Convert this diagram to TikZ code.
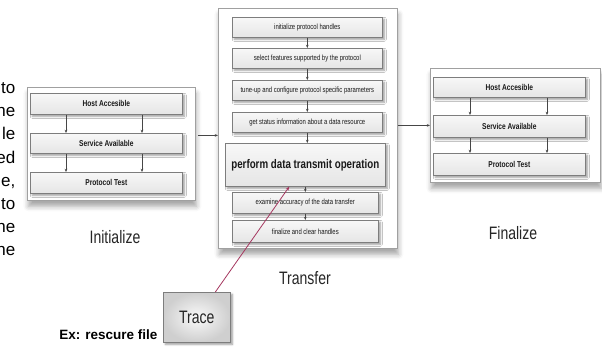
\documentclass[tikz,border=0pt]{standalone}
\usepackage{fontspec}
\setmainfont{Liberation Sans}
\newfontfamily\narrowfont[FakeStretch=0.78]{Liberation Sans}
\usetikzlibrary{arrows.meta,shadows.blur}

\definecolor{framegray}{RGB}{160,160,160}
\definecolor{boxedge}{RGB}{125,125,125}
\definecolor{conngray}{RGB}{70,70,70}
\definecolor{tracered}{RGB}{165,55,95}

\tikzset{
  panel/.style={draw=framegray, line width=0.8pt, fill=white, inner sep=0pt,
    anchor=north west,
    blur shadow={shadow xshift=1pt, shadow yshift=-6pt, shadow blur radius=5pt,
                 shadow opacity=35}},
  ibox/.style={draw=boxedge, line width=0.6pt, top color=gray!6, bottom color=gray!20,
    inner sep=0pt, anchor=north west, text=black!90,
    blur shadow={shadow xshift=2pt, shadow yshift=-2pt, shadow blur radius=2pt,
                 shadow opacity=40},
    font=\narrowfont\bfseries\fontsize{8.5}{10}\selectfont},
  tbox/.style={ibox, minimum width=150pt, minimum height=20pt,
    font=\narrowfont\fontsize{7.6}{9}\selectfont},
  conn/.style={draw=conngray, line width=0.6pt,
    -{Stealth[length=3.2pt,width=2.6pt]}},
  lbl/.style={font=\narrowfont\fontsize{18}{20}\selectfont, text=black!85},
  tracebox/.style={draw=boxedge, line width=0.7pt, inner sep=0pt, anchor=north west,
    shading=radial, inner color=gray!4, outer color=gray!38,
    blur shadow={shadow xshift=2pt, shadow yshift=-2pt, shadow blur radius=2pt,
                 shadow opacity=40},
    font=\narrowfont\fontsize{18}{20}\selectfont, text=black!85},
  tracelink/.style={draw=tracered, line width=0.8pt,
    -{Stealth[length=4pt,width=3pt]}},
  margintext/.style={font=\fontsize{17}{20}\selectfont, anchor=base east, inner sep=0pt}
}

\begin{document}
\begin{tikzpicture}[x=1pt,y=-1pt]
\useasboundingbox (0,0) rectangle (602,347);

% cut-off paragraph at the left edge
\foreach \w [count=\i] in {to,he,le,ed,{e,},to,he,he}
  \node[margintext] (m\i) at (15.5, {93.5 + (\i-1)*23.2}) {\w};

% ---------- Initialize ----------
\node[panel, minimum width=168pt, minimum height=113pt] (ini) at (27,87) {};
\node[ibox, minimum width=152pt, minimum height=21pt] (i1) at (30,93)  {Host Accesible};
\node[ibox, minimum width=152pt, minimum height=20pt] (i2) at (30,133) {Service Available};
\node[ibox, minimum width=152pt, minimum height=21pt] (i3) at (30,172) {Protocol Test};
\foreach \dx in {36,112} {
  \draw[conn] ([xshift=\dx pt]i1.south west) -- ([xshift=\dx pt]i2.north west);
  \draw[conn] ([xshift=\dx pt]i2.south west) -- ([xshift=\dx pt]i3.north west);
}
\node[lbl] (linit) at (115,237) {Initialize};

% ---------- Transfer ----------
\node[panel, minimum width=179pt, minimum height=240pt] (tra) at (218,8) {};
\node[tbox] (t1) at (232,17)  {initialize protocol handles};
\node[tbox] (t2) at (232,48)  {select features supported by the protocol};
\node[tbox] (t3) at (232,80)  {tune-up and configure protocol specific parameters};
\node[tbox] (t4) at (232,112) {get status information about a data resource};
\node[ibox, minimum width=160pt, minimum height=43pt,
      font=\narrowfont\bfseries\fontsize{12.5}{14}\selectfont] (t5) at (225,143)
      {perform data transmit operation};
\node[tbox, minimum width=146pt, minimum height=21pt] (t6) at (232,192) {examine accuracy of the data transfer};
\node[tbox, minimum width=146pt, minimum height=22pt] (t7) at (232,220) {finalize and clear handles};
\draw[conn] (t1.south) -- (t2.north);
\draw[conn] (t2.south) -- (t3.north);
\draw[conn] (t3.south) -- (t4.north);
\draw[conn] (t4.south) -- (t4.south |- t5.north);
\draw[conn] (t6.north |- t5.south) -- (t6.north);
\draw[conn] (t6.south) -- (t7.north);
\node[lbl] (ltra) at (305,278) {Transfer};

% ---------- Finalize ----------
\node[panel, minimum width=170pt, minimum height=114pt] (fin) at (430,68) {};
\node[ibox, minimum width=152pt, minimum height=20pt] (f1) at (433,77)  {Host Accesible};
\node[ibox, minimum width=152pt, minimum height=22pt] (f2) at (433,115) {Service Available};
\node[ibox, minimum width=152pt, minimum height=22pt] (f3) at (433,153) {Protocol Test};
\foreach \dx in {37,114} {
  \draw[conn] ([xshift=\dx pt]f1.south west) -- ([xshift=\dx pt]f2.north west);
  \draw[conn] ([xshift=\dx pt]f2.south west) -- ([xshift=\dx pt]f3.north west);
}
\node[lbl] (lfin) at (513,233) {Finalize};

% ---------- flow between stages ----------
\draw[conn] ([xshift=2pt,yshift=8.5pt]ini.east) -- ([yshift=8.5pt]ini.east -| tra.west);
\draw[conn] (tra.east |- fin.west) -- (fin.west);

% ---------- Trace ----------
\node[tracebox, minimum width=67pt, minimum height=50pt] (trace) at (163,292)
  {\raisebox{-4pt}{Trace}};
\node[font=\bfseries\fontsize{13.5}{16}\selectfont, anchor=base east, inner sep=0pt]
  (ex) at (157.5,339) {Ex: rescure file};
\draw[tracelink] ([xshift=18.5pt]trace.north) -- ([xshift=-16pt]t5.south);
\end{tikzpicture}
\end{document}
